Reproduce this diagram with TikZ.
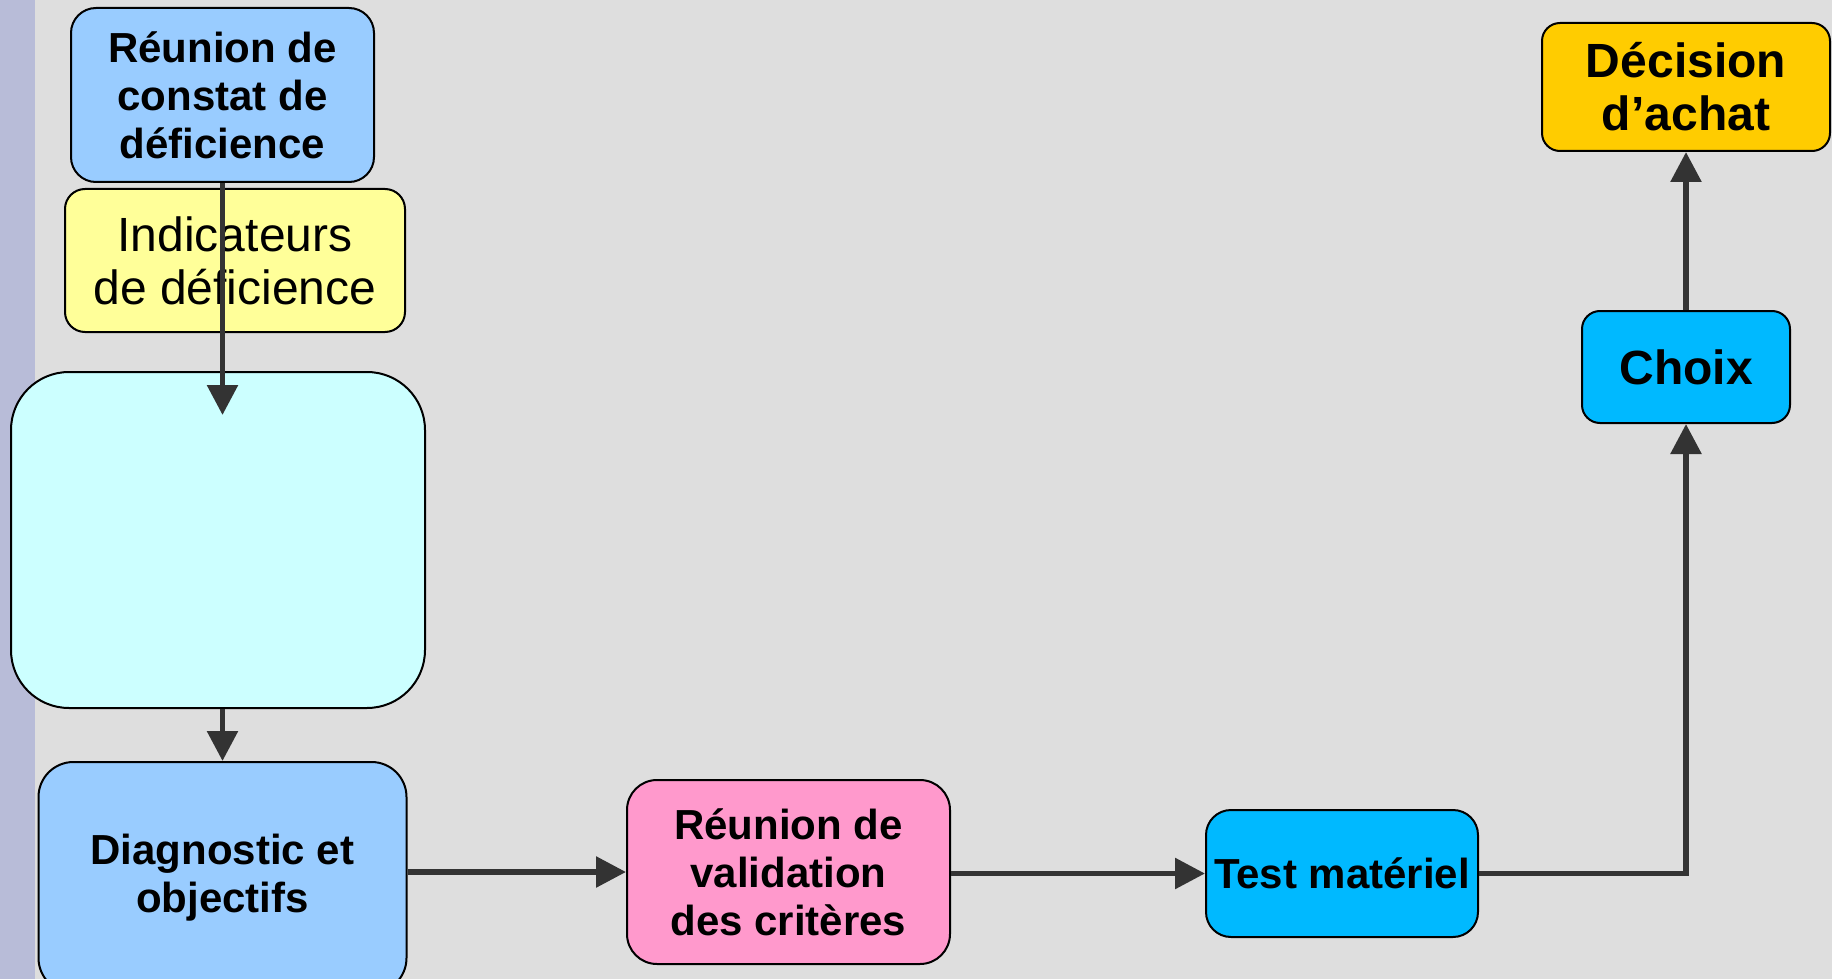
\documentclass[tikz,border=0pt]{standalone}
\usepackage{fontspec}
\setmainfont{Liberation Sans}
\usetikzlibrary{arrows.meta}
\definecolor{bgc}{HTML}{DEDEDE}
\definecolor{stripc}{HTML}{B8BCD8}
\definecolor{cblue}{HTML}{99CCFF}
\definecolor{cyellow}{HTML}{FFFF99}
\definecolor{ccyan}{HTML}{CCFFFF}
\definecolor{cpink}{HTML}{FF99CC}
\definecolor{cdeep}{HTML}{00B9FF}
\definecolor{cgold}{HTML}{FFCC00}
\definecolor{cline}{HTML}{333333}
\tikzset{
  box/.style={draw=black, line width=2pt, inner sep=0pt, align=center, text=black,
    font=\fontsize{42}{48}\selectfont\bfseries},
  bigbold/.style={font=\fontsize{48}{53}\selectfont\bfseries},
  conn/.style={draw=cline, line width=5.7pt, -{Triangle[length=30pt,width=30pt]}}
}
\begin{document}
\begin{tikzpicture}[x=1pt,y=-1pt]
\useasboundingbox (0,0) rectangle (1832,979);
\fill[bgc] (0,0) rectangle (1832,979);
\fill[stripc] (0,0) rectangle (35,979);

\node[box, fill=cblue, minimum width=303pt, minimum height=174pt, rounded corners=25pt] (constat) at (222.5,95) {Réunion de\\constat de\\déficience};
\node[box, fill=cyellow, font=\fontsize{48}{53}\selectfont, minimum width=340pt, minimum height=143pt, rounded corners=20pt] (indic) at (235,260.5) {Indicateurs\\de déficience};
\node[box, fill=ccyan, minimum width=414pt, minimum height=336pt, rounded corners=58pt] (cyan) at (218,540) {};
\node[box, fill=cblue, minimum width=368pt, minimum height=231pt, rounded corners=35pt] (diag) at (222.5,877.5) {Diagnostic et\\objectifs};
\node[box, fill=cpink, minimum width=323pt, minimum height=184pt, rounded corners=30pt] (pink) at (788.5,872) {Réunion de\\validation\\des critères};
\node[box, fill=cdeep, minimum width=272pt, minimum height=127pt, rounded corners=25pt] (test) at (1342,873.5) {Test matériel};
\node[box, bigbold, fill=cdeep, minimum width=208pt, minimum height=112pt, rounded corners=18pt] (choix) at (1686,367) {Choix};
\node[box, bigbold, fill=cgold, minimum width=288pt, minimum height=128pt, rounded corners=18pt] (dec) at (1686,87) {Décision\\d’achat};

\coordinate (tip1) at (222.5,415);
\draw[conn] (constat.south) -- (tip1);
\draw[conn] (diag.north |- cyan.south) -- (diag.north);
\draw[conn] (diag.east |- pink.west) -- (pink.west);
\draw[conn] (pink.east |- test.west) -- (test.west);
\draw[conn] (test.east) -| (choix.south);
\draw[conn] (choix.north) -- (dec.south);
\end{tikzpicture}
\end{document}
